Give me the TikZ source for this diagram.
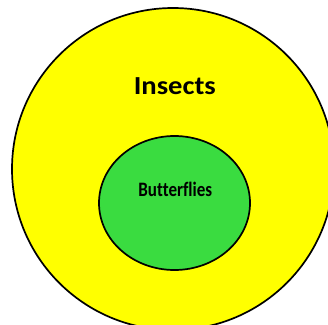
\documentclass[tikz,border=0pt]{standalone}
\usepackage{fontspec}
\setmainfont{Carlito}[Ligatures=CommonOff]
\usetikzlibrary{shapes.geometric}
\definecolor{venyellow}{HTML}{FFFF00}
\definecolor{vengreen}{HTML}{3ADC40}
\begin{document}
\begin{tikzpicture}[x=1pt,y=-1pt,
  setshape/.style={draw=black,line width=1.7pt},
  lbl/.style={text=black,inner sep=0pt,anchor=base}]
\useasboundingbox (0,0) rectangle (328,324);
\begin{scope}
\clip (0,0) rectangle (328,324);
\node[setshape,fill=venyellow,circle,minimum size=322pt,inner sep=0pt] (insects) at (173,169) {};
\node[setshape,fill=vengreen,ellipse,minimum width=151pt,minimum height=134pt,inner sep=0pt] (butterflies) at (174.5,203) {};
\end{scope}
\node[lbl,font=\bfseries\fontsize{26}{30}\selectfont] (tInsects) at (174.8,94) {\scalebox{1.1}[1]{Insects}};
\node[lbl,font=\bfseries\fontsize{20.5}{24}\selectfont] (tButter) at (175.3,196.7) {\scalebox{0.83}[1]{Butterflies}};
\end{tikzpicture}
\end{document}
